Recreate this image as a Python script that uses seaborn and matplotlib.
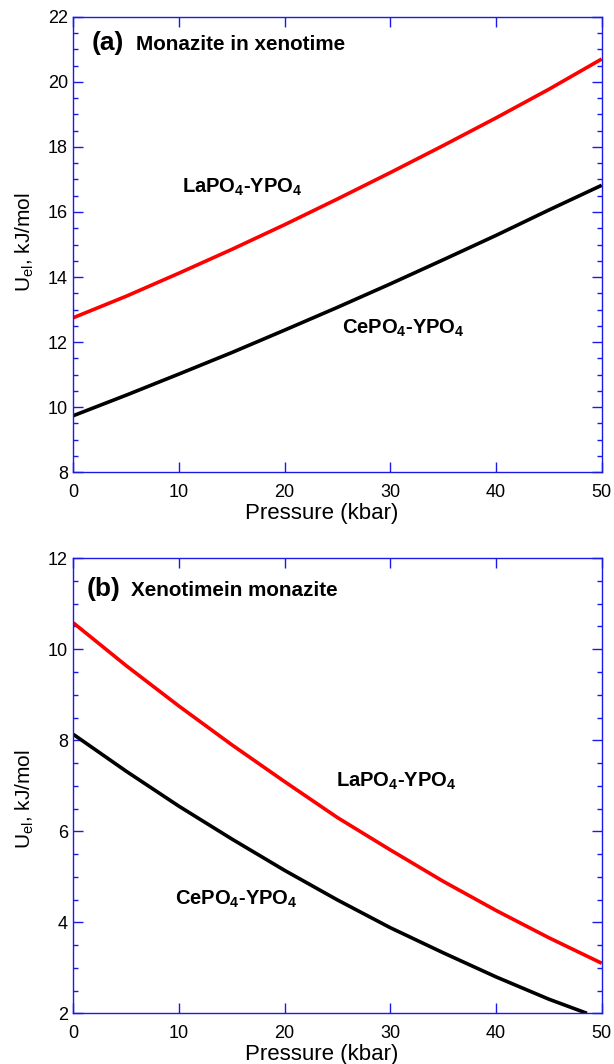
import matplotlib
matplotlib.use("Agg")
import matplotlib.pyplot as plt
from matplotlib.ticker import MultipleLocator
import pandas as pd
import seaborn as sns

# Elastic strain energy vs pressure (kbar -> kJ/mol)
pressure = [0, 5, 10, 15, 20, 25, 30, 35, 40, 45, 50]

# (a) monazite inclusion in xenotime host
la_mnz_in_xtm = [12.75, 13.41, 14.12, 14.85, 15.61, 16.40, 17.21, 18.04, 18.89, 19.77, 20.70]
ce_mnz_in_xtm = [9.74, 10.37, 11.02, 11.68, 12.37, 13.07, 13.79, 14.53, 15.28, 16.06, 16.82]

# (b) xenotime inclusion in monazite host
la_xtm_in_mnz = [10.58, 9.64, 8.75, 7.90, 7.09, 6.30, 5.59, 4.90, 4.26, 3.66, 3.10]
pressure_ce_b = [0, 5, 10, 15, 20, 25, 30, 35, 40, 45, 48.6]
ce_xtm_in_mnz = [8.13, 7.32, 6.55, 5.83, 5.14, 4.49, 3.88, 3.33, 2.80, 2.31, 2.00]

systems = ["LaPO4-YPO4", "CePO4-YPO4"]
palette = {"LaPO4-YPO4": "#ff0000", "CePO4-YPO4": "#000000"}
label_la = r"LaPO$_\mathbf{4}$-YPO$_\mathbf{4}$"
label_ce = r"CePO$_\mathbf{4}$-YPO$_\mathbf{4}$"


def long_frame(p_la, u_la, p_ce, u_ce):
    return pd.concat([
        pd.DataFrame({"P": p_la, "U": u_la, "system": systems[0]}),
        pd.DataFrame({"P": p_ce, "U": u_ce, "system": systems[1]}),
    ], ignore_index=True)


df_a = long_frame(pressure, la_mnz_in_xtm, pressure, ce_mnz_in_xtm)
df_b = long_frame(pressure, la_xtm_in_mnz, pressure_ce_b, ce_xtm_in_mnz)

sns.set_style("ticks")
plt.rcParams["font.family"] = ["Liberation Sans", "DejaVu Sans"]
plt.rcParams["text.color"] = "black"
plt.rcParams["axes.labelcolor"] = "black"
plt.rcParams["mathtext.fontset"] = "custom"
plt.rcParams["mathtext.rm"] = "Liberation Sans"
plt.rcParams["mathtext.it"] = "Liberation Sans"
plt.rcParams["mathtext.bf"] = "Liberation Sans:bold"
plt.rcParams["mathtext.default"] = "rm"

AXIS_BLUE = "#1a1ae6"

fig = plt.figure(figsize=(6.14, 10.64), dpi=100)
ax_a = fig.add_axes([0.1194, 0.5561, 0.8606, 0.4282])
ax_b = fig.add_axes([0.1194, 0.04765, 0.8606, 0.4277])


def style_axes(ax, ylim, ymajor, label_y):
    ax.set_xlim(0, 50)
    ax.set_ylim(*ylim)
    ax.xaxis.set_major_locator(MultipleLocator(10))
    ax.yaxis.set_major_locator(MultipleLocator(ymajor))
    ax.yaxis.set_minor_locator(MultipleLocator(0.5))
    for s in ax.spines.values():
        s.set_visible(True)
        s.set_color(AXIS_BLUE)
        s.set_linewidth(1.0)
    ax.tick_params(axis="both", which="both", direction="in", top=True, right=True,
                   color=AXIS_BLUE, labelcolor="black", labelsize=13, pad=4)
    ax.tick_params(axis="x", pad=8.5)
    ax.tick_params(which="major", length=7.2, width=1.0)
    ax.tick_params(which="minor", length=3.6, width=1.0)
    ax.set_xlabel("Pressure (kbar)", fontsize=16)
    ax.xaxis.set_label_coords(0.47, -0.068)
    ax.set_ylabel(r"U$_{el}$, kJ/mol", fontsize=15)
    ax.yaxis.set_label_coords(-0.07, label_y)


for ax, df in ((ax_a, df_a), (ax_b, df_b)):
    sns.lineplot(data=df, x="P", y="U", hue="system", hue_order=systems,
                 palette=palette, linewidth=2.6, legend=False, ax=ax,
                 solid_capstyle="butt")

style_axes(ax_a, (8, 22), 2, 0.505)
style_axes(ax_b, (2, 12), 2, 0.47)

# panel headings
ax_a.text(1.77, 20.98, "(a)", fontsize=19, fontweight="bold", va="baseline")
ax_a.text(5.95, 20.98, "Monazite in xenotime", fontsize=14.9, fontweight="bold", va="baseline")
ax_b.text(1.26, 11.17, "(b)", fontsize=19, fontweight="bold", va="baseline")
ax_b.text(5.47, 11.17, "Xenotimein monazite", fontsize=14.9, fontweight="bold", va="baseline")

# curve labels
ax_a.text(10.3, 16.6, label_la, fontsize=14.5, fontweight="bold", va="baseline")
ax_a.text(25.4, 12.27, label_ce, fontsize=14.5, fontweight="bold", va="baseline")
ax_b.text(24.9, 6.98, label_la, fontsize=14.5, fontweight="bold", va="baseline")
ax_b.text(9.6, 4.38, label_ce, fontsize=14.5, fontweight="bold", va="baseline")

fig.savefig("out.png", dpi=100)
